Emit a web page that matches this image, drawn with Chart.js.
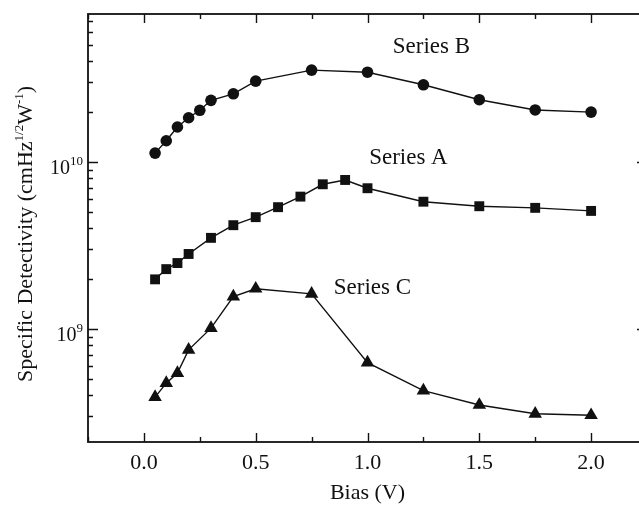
<!DOCTYPE html>
<html>
<head>
<meta charset="utf-8">
<script src="https://cdn.jsdelivr.net/npm/chart.js@4"></script>
<style>
html,body{margin:0;padding:0;background:#fff;overflow:hidden;width:639px;height:513px}
#wrap{width:660px;height:513px}
</style>
</head>
<body>
<div id="wrap"><canvas id="c" width="660" height="513"></canvas></div>
<script>
// ---- data ----
const biasB = [0.05, 0.1, 0.15, 0.2, 0.25, 0.3, 0.4, 0.5, 0.75, 1.0, 1.25, 1.5, 1.75, 2.0];
const seriesB = [1.13e10, 1.34e10, 1.62e10, 1.84e10, 2.04e10, 2.34e10, 2.56e10, 3.05e10, 3.55e10, 3.45e10, 2.9e10, 2.36e10, 2.05e10, 1.99e10];
const biasA = [0.05, 0.1, 0.15, 0.2, 0.3, 0.4, 0.5, 0.6, 0.7, 0.8, 0.9, 1.0, 1.25, 1.5, 1.75, 2.0];
const seriesA = [1.98e9, 2.28e9, 2.48e9, 2.81e9, 3.51e9, 4.18e9, 4.67e9, 5.36e9, 6.2e9, 7.35e9, 7.8e9, 6.96e9, 5.78e9, 5.43e9, 5.31e9, 5.09e9];
const biasC = [0.05, 0.1, 0.15, 0.2, 0.3, 0.4, 0.5, 0.75, 1.0, 1.25, 1.5, 1.75, 2.0];
const seriesC = [3.9e8, 4.73e8, 5.43e8, 7.49e8, 1.01e9, 1.56e9, 1.74e9, 1.62e9, 6.28e8, 4.27e8, 3.5e8, 3.1e8, 3.04e8];
const seriesNames = ['Series A', 'Series B', 'Series C'];
const xTickLabels = ['0.0', '0.5', '1.0', '1.5', '2.0'];
const yTickValues = [1e9, 1e10];
const yTickBase = ['10', '10'];
const yTickExp = ['9', '10'];
// where the series names sit, in data units (bias, detectivity)
const nameAnchorX = [1.183, 1.286, 1.022];
const nameAnchorY = [9.73e9, 4.48e10, 1.62e9];

const FONT = "'Liberation Serif','Times New Roman',serif";
const INK = '#111';

function pts(xs, ys) { return xs.map((v, i) => ({x: v, y: ys[i]})); }

const frame = {
  id: 'frame',
  beforeDatasetsDraw(chart) {
    const {ctx, chartArea: a, scales: {x, y}} = chart;
    ctx.save();
    ctx.strokeStyle = INK;
    ctx.lineWidth = 1.8;
    ctx.strokeRect(a.left, a.top, a.right - a.left, a.bottom - a.top);
    ctx.lineWidth = 1.4;
    ctx.beginPath();
    const step = 0.25;
    for (let k = Math.ceil(x.min / step); k * step <= x.max + 1e-9; k++) {
      const v = k * step;
      const px = Math.round(x.getPixelForValue(v)) + 0.5;
      const len = (k % 2 === 0) ? 9 : 5;
      ctx.moveTo(px, a.bottom); ctx.lineTo(px, a.bottom - len);
      ctx.moveTo(px, a.top); ctx.lineTo(px, a.top + len);
    }
    const e0 = Math.floor(Math.log10(y.min)), e1 = Math.ceil(Math.log10(y.max));
    for (let e = e0; e <= e1; e++) {
      for (let m = 1; m <= 9; m++) {
        const v = m * Math.pow(10, e);
        if (v < y.min || v > y.max) continue;
        const py = Math.round(y.getPixelForValue(v)) + 0.5;
        const len = m === 1 ? 10 : 5;
        ctx.moveTo(a.left, py); ctx.lineTo(a.left + len, py);
        ctx.moveTo(a.right, py); ctx.lineTo(a.right - len, py);
      }
    }
    ctx.stroke();
    ctx.restore();
  },
  afterDraw(chart) {
    const {ctx, chartArea: a, scales: {x, y}} = chart;
    ctx.save();
    ctx.fillStyle = INK;
    // y tick labels with superscripts
    yTickValues.forEach((v, i) => {
      const py = y.getPixelForValue(v);
      ctx.font = '20px ' + FONT;
      const wb = ctx.measureText(yTickBase[i]).width;
      ctx.font = '13px ' + FONT;
      const we = ctx.measureText(yTickExp[i]).width;
      const right = a.left - 5;
      ctx.textBaseline = 'alphabetic';
      ctx.textAlign = 'left';
      ctx.font = '20px ' + FONT;
      ctx.fillText(yTickBase[i], right - we - wb, py + 12);
      ctx.font = '13px ' + FONT;
      ctx.fillText(yTickExp[i], right - we, py + 3);
    });
    // y axis title with superscripts
    const parts = [
      ['Specific Detectivity (cmHz', 22, 0],
      ['1/2', 13, -9],
      ['W', 22, 0],
      ['-1', 13, -9],
      [')', 22, 0]
    ];
    let total = 0;
    parts.forEach(p => { ctx.font = p[1] + 'px ' + FONT; p.push(ctx.measureText(p[0]).width); total += p[3]; });
    ctx.translate(32, (a.top + a.bottom) / 2 + 6);
    ctx.rotate(-Math.PI / 2);
    let cx = -total / 2;
    ctx.textAlign = 'left';
    ctx.textBaseline = 'alphabetic';
    parts.forEach(p => { ctx.font = p[1] + 'px ' + FONT; ctx.fillText(p[0], cx, p[2]); cx += p[3]; });
    ctx.setTransform(1, 0, 0, 1, 0, 0);
    // series names
    ctx.font = '23px ' + FONT;
    ctx.textAlign = 'center';
    ctx.textBaseline = 'alphabetic';
    seriesNames.forEach((n, i) => {
      ctx.fillText(n, x.getPixelForValue(nameAnchorX[i]), y.getPixelForValue(nameAnchorY[i]));
    });
    ctx.restore();
  }
};

const common = {borderColor: INK, backgroundColor: INK, borderWidth: 1.4, pointBorderWidth: 0, fill: false, tension: 0};

new Chart(document.getElementById('c'), {
  type: 'line',
  data: {
    datasets: [
      Object.assign({label: seriesNames[0], data: pts(biasA, seriesA), pointStyle: 'rect', pointRadius: 7}, common),
      Object.assign({label: seriesNames[1], data: pts(biasB, seriesB), pointStyle: 'circle', pointRadius: 5.8}, common),
      Object.assign({label: seriesNames[2], data: pts(biasC, seriesC), pointStyle: 'triangle', pointRadius: 7.8}, common)
    ]
  },
  options: {
    responsive: false,
    animation: false,
    layout: {padding: {top: 14, right: 13, left: 0, bottom: 0}},
    plugins: {legend: {display: false}, tooltip: {enabled: false}},
    scales: {
      x: {
        type: 'linear', min: -0.25, max: 2.25,
        grid: {display: false, drawTicks: false},
        border: {display: false},
        ticks: {
          stepSize: 0.25, padding: 8, color: INK, font: {family: FONT, size: 22},
          maxRotation: 0, autoSkip: false,
          callback: (v) => { const i = Math.round(v / 0.5); return (Math.abs(v - i * 0.5) < 1e-6 && i >= 0 && i < xTickLabels.length) ? xTickLabels[i] : ''; }
        },
        title: {display: true, text: 'Bias (V)', color: INK, font: {family: FONT, size: 22}, padding: {top: 0, bottom: 7}},
        afterFit: (s) => { s.height = 71; }
      },
      y: {
        type: 'logarithmic', min: 2.1e8, max: 7.7e10,
        grid: {display: false, drawTicks: false},
        border: {display: false},
        ticks: {display: false},
        afterFit: (s) => { s.width = 88; }
      }
    }
  },
  plugins: [frame]
});
</script>
</body>
</html>
